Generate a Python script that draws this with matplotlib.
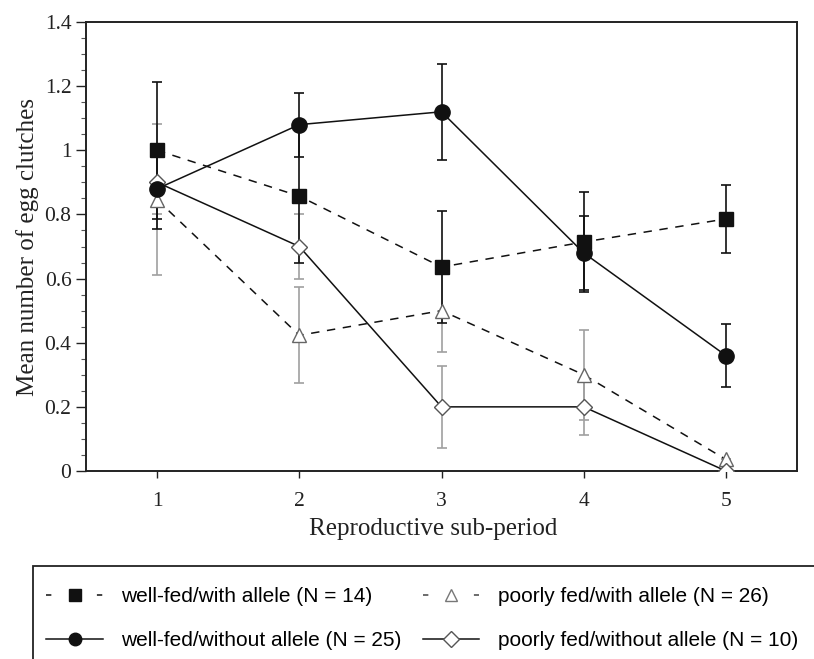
import matplotlib
matplotlib.use('Agg')
import matplotlib.pyplot as plt
from matplotlib.lines import Line2D
from matplotlib.patches import Rectangle
from matplotlib.ticker import MultipleLocator, FormatStrFormatter
import numpy as np

# --- DATA ---
periods = [1, 2, 3, 4, 5]

wellfed_with = [1.0, 0.857, 0.636, 0.714, 0.786]
wellfed_with_se = [0.213, 0.207, 0.175, 0.157, 0.107]

wellfed_without = [0.88, 1.08, 1.12, 0.68, 0.36]
wellfed_without_se = [0.125, 0.10, 0.15, 0.115, 0.098]

poorfed_with = [0.846, 0.423, 0.50, 0.30, 0.036]
poorfed_with_se = [0.235, 0.15, 0.13, 0.14, 0.0]

poorfed_without = [0.90, 0.70, 0.20, 0.20, 0.0]
poorfed_without_se = [0.10, 0.10, 0.127, 0.088, 0.037]

labels = ['well-fed/with allele (N = 14)',
          'well-fed/without allele (N = 25)',
          'poorly fed/with allele (N = 26)',
          'poorly fed/without allele (N = 10)']

# --- STYLE ---
dash = (0, (5.5, 5))
black = '#111111'
grey_bar = '#a0a0a0'
lw = 1.1

fig = plt.figure(figsize=(8.14, 6.59), dpi=100)
ax = fig.add_axes([86/814, 1 - 471/659, (797-86)/814, (471-22)/659])

# grey error bars (poorly fed) drawn first, behind
ax.errorbar(periods, poorfed_with, yerr=poorfed_with_se, fmt='none',
            ecolor=grey_bar, elinewidth=1.2, capsize=3.8, capthick=1.2, zorder=2)
ax.errorbar(periods, poorfed_without, yerr=poorfed_without_se, fmt='none',
            ecolor=grey_bar, elinewidth=1.2, capsize=3.8, capthick=1.2, zorder=2)
ax.errorbar(periods, wellfed_with, yerr=wellfed_with_se, fmt='none',
            ecolor=black, elinewidth=1.2, capsize=3.8, capthick=1.2, zorder=3)
ax.errorbar(periods, wellfed_without, yerr=wellfed_without_se, fmt='none',
            ecolor=black, elinewidth=1.2, capsize=3.8, capthick=1.2, zorder=3)

# lines + markers
ax.plot(periods, poorfed_with, linestyle=dash, color=black, lw=lw,
        marker='^', ms=10, mfc='white', mec='#666666', mew=1.0, zorder=4)
ax.plot(periods, poorfed_without, linestyle='-', color=black, lw=lw,
        marker='D', ms=8.5, mfc='white', mec='#555555', mew=1.0, zorder=4)
ax.plot(periods, wellfed_with, linestyle=dash, color=black, lw=lw,
        marker='s', ms=10, mfc=black, mec=black, zorder=5)
ax.plot(periods, wellfed_without, linestyle='-', color=black, lw=lw,
        marker='o', ms=11, mfc=black, mec=black, zorder=5)

# axes
ax.set_xlim(0.5, 5.5)
ax.set_ylim(0, 1.4)
ax.set_xticks(periods)
ax.yaxis.set_major_locator(MultipleLocator(0.2))
ax.yaxis.set_minor_locator(MultipleLocator(0.05))
ax.yaxis.set_major_formatter(FormatStrFormatter('%g'))
ax.tick_params(axis='both', direction='out', labelsize=15.5, colors='#222222',
               labelcolor='#222222')
ax.tick_params(axis='y', which='major', length=7, width=1.0)
ax.tick_params(axis='y', which='minor', length=3.5, width=0.8, colors='#555555')
ax.tick_params(axis='x', which='major', length=5, width=1.0, pad=10)
for lab in ax.get_xticklabels() + ax.get_yticklabels():
    lab.set_family('Liberation Serif')
for s in ax.spines.values():
    s.set_linewidth(1.4)
    s.set_color('#222222')

ax.set_xlabel('Reproductive sub-period', family='Liberation Serif', fontsize=18,
              color='#222222')
ax.xaxis.set_label_coords(0.489, -0.105)
ax.set_ylabel('Mean number of egg clutches', family='Liberation Serif', fontsize=18,
              color='#222222', labelpad=4)

# --- LEGEND ---
box = Rectangle((33/814, -0.2), 1.2, 0.2 + (659-566)/659, transform=fig.transFigure,
                fill=False, edgecolor='#222222', lw=1.3)
fig.add_artist(box)

leg_fs = 15
hlen = 2.7
# dash at each end of the handle: on a, off (L/lw - 2a)
a = 3.5
gap = hlen * leg_fs / lw - 2 * a
end_dash = (0, (a, gap))

handles = [
    Line2D([], [], color=black, lw=lw, linestyle=end_dash, marker='s', ms=8,
           mfc=black, mec=black),
    Line2D([], [], color=black, lw=lw, linestyle='-', marker='o', ms=9,
           mfc=black, mec=black),
    Line2D([], [], color='#444444', lw=lw, linestyle=end_dash, marker='^', ms=9,
           mfc='white', mec='#777777', mew=1.0),
    Line2D([], [], color=black, lw=lw, linestyle='-', marker='D', ms=8,
           mfc='white', mec='#555555', mew=1.0),
]
fig.legend(handles, labels, loc='upper left', bbox_to_anchor=(36/814, 1 - 577/659),
           ncol=2, frameon=False, borderpad=0, handlelength=hlen, handletextpad=0.9,
           columnspacing=1.0, labelspacing=1.2,
           prop={'family': 'Liberation Sans', 'size': leg_fs})

fig.savefig('out.png', dpi=100)
